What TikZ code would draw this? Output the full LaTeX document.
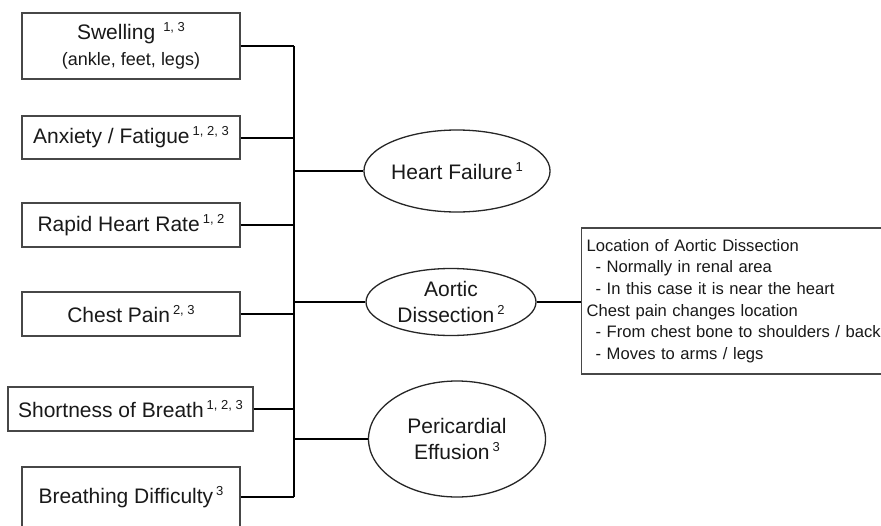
\documentclass[tikz,border=0pt]{standalone}
\usepackage{fontspec}
\setmainfont{Liberation Sans}
\usetikzlibrary{shapes.geometric}

% raised reference numbers after a symptom or diagnosis
\newcommand\supnote[1]{\kern3pt\raisebox{8pt}{\fontsize{13}{13}\selectfont #1}}

\begin{document}
\begin{tikzpicture}[x=1pt,y=-1pt,
  symbox/.style={rectangle, draw=black!72, line width=1.3pt, inner sep=0pt,
    text=black!90, font=\fontsize{21}{28}\selectfont, align=center},
  diag/.style={ellipse, draw=black!85, line width=1.3pt, inner sep=0pt,
    text=black!90, font=\fontsize{21}{26}\selectfont, align=center},
  notebox/.style={rectangle, draw=black!72, line width=1.3pt, inner sep=5pt,
    text=black!90, font=\fontsize{16.6}{21.6}\selectfont, align=left,
    text width=300pt, minimum height=146pt, anchor=west},
  link/.style={line width=2pt, black}]

\clip (0,0) rectangle (881,525);
\fill[white] (0,0) rectangle (881,525);

% symptoms
\node[symbox, minimum width=218pt, minimum height=66pt] (swell) at (131,46)
  {Swelling\kern5pt\supnote{1, 3}\\[-2pt]{\fontsize{18}{22}\selectfont (ankle, feet, legs)}};
\node[symbox, minimum width=218pt, minimum height=43pt] (anx) at (131,137.5)
  {Anxiety / Fatigue\supnote{1, 2, 3}};
\node[symbox, minimum width=218pt, minimum height=44pt] (rapid) at (131,225)
  {Rapid Heart Rate\supnote{1, 2}};
\node[symbox, minimum width=218pt, minimum height=44pt] (chest) at (131,314)
  {Chest Pain\supnote{2, 3}};
\node[symbox, minimum width=245pt, minimum height=44pt] (short) at (130.5,409)
  {Shortness of Breath\supnote{1, 2, 3}};
\node[symbox, minimum width=218pt, minimum height=60pt] (breath) at (131,497)
  {Breathing Difficulty\supnote{3}};

% diagnoses
\node[diag, minimum width=177pt, minimum height=82pt] (hf) at (457,171)
  {Heart Failure\supnote{1}};
\node[diag, minimum width=170pt, minimum height=67pt] (ad) at (451,302)
  {Aortic\\Dissection\supnote{2}};
\node[diag, minimum width=177pt, minimum height=116pt] (pe) at (457,439)
  {Pericardial\\Effusion\supnote{3}};

% notes on aortic dissection
\node[notebox] (note) at (581,301)
  {Location of Aortic Dissection\\
   \hspace*{9pt}- Normally in renal area\\
   \hspace*{9pt}- In this case it is near the heart\\
   Chest pain changes location\\
   \hspace*{9pt}- From chest bone to shoulders / back\\
   \hspace*{9pt}- Moves to arms / legs};

% shared vertical bus
\coordinate (bus) at (294,0);

\draw[link] (swell.east) -- (swell.east -| bus);
\draw[link] (anx.east) -- (anx.east -| bus);
\draw[link] (rapid.east) -- (rapid.east -| bus);
\draw[link] (chest.east) -- (chest.east -| bus);
\draw[link] (short.east) -- (short.east -| bus);
\draw[link] (breath.east) -- (breath.east -| bus);
\draw[link] (swell.east -| bus) -- (breath.east -| bus);

\draw[link] (hf.west -| bus) -- (hf.west);
\draw[link] (ad.west -| bus) -- (ad.west);
\draw[link] (pe.west -| bus) -- (pe.west);

\draw[link, line width=1.5pt] (ad.east) -- (ad.east -| note.west);
\end{tikzpicture}
\end{document}
